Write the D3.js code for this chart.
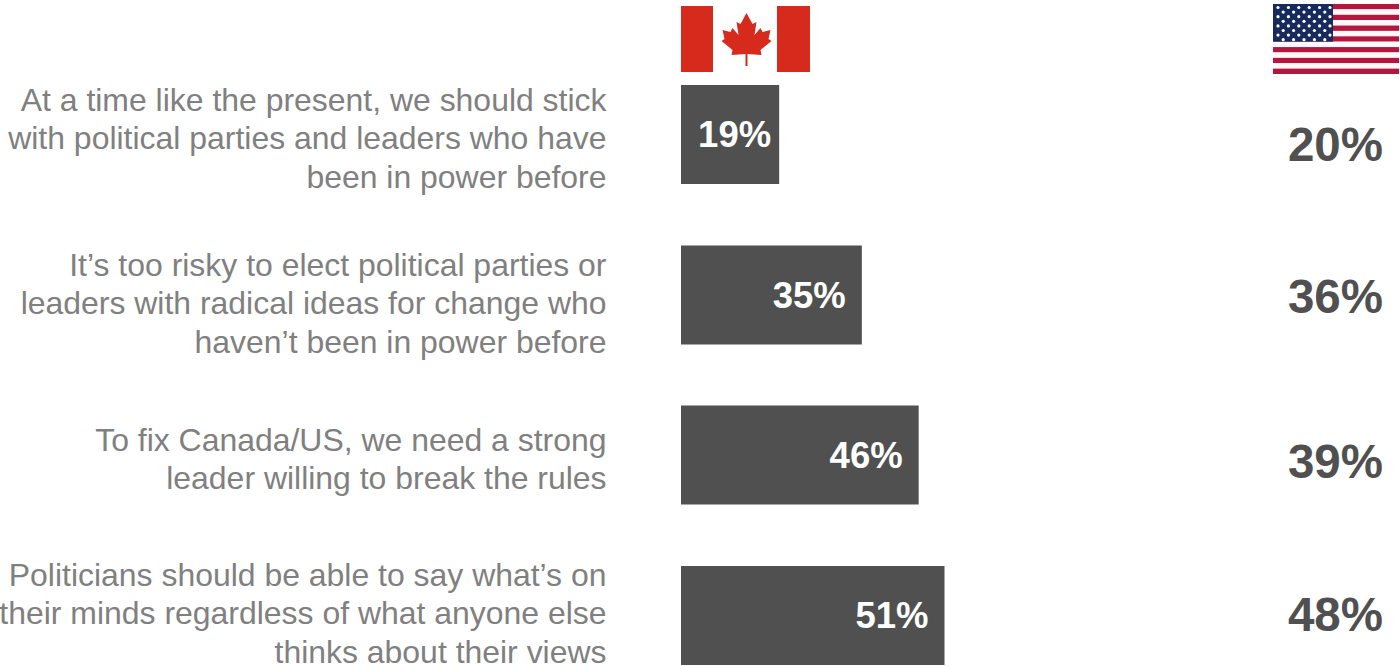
<!DOCTYPE html>
<html>
<head>
<meta charset="utf-8">
<script src="https://cdn.jsdelivr.net/npm/d3@7"></script>
<style>
html,body{margin:0;padding:0;background:#fff;overflow:hidden}
svg{display:block;font-family:"Liberation Sans",Arial,sans-serif}
</style>
</head>
<body>
<svg id="chart" width="1400" height="666"></svg>
<script>
// Agreement with each statement, Canada vs. United States (percent)
const statements = [
  ["At a time like the present, we should stick","with political parties and leaders who have","been in power before"],
  ["It’s too risky to elect political parties or","leaders with radical ideas for change who","haven’t been in power before"],
  ["To fix Canada/US, we need a strong","leader willing to break the rules"],
  ["Politicians should be able to say what’s on","their minds regardless of what anyone else","thinks about their views"]
];
const canadaValues = [19, 35, 46, 51];
const usValues = [20, 36, 39, 48];

const barColor = "#505050";
const labelGrey = "#808080";
const flagRed = "#d52b1e";
const usRed = "#b5193c";
const usBlue = "#16295c";

const svg = d3.select("#chart");
const defs = svg.append("defs");
defs.append("filter").attr("id","soft").append("feGaussianBlur").attr("stdDeviation",0.6);

const x = d3.scaleLinear().domain([0, 51]).range([681, 944.5]);
const rowTops = [85, 245.5, 405.5, 566];
const barHeight = 99;
const rowCentre = i => rowTops[i] + barHeight / 2;
// Text blocks sit a little off the bar centres in this layout
const textCentre = [138, 303, 459, 613];
const usCentre = [144, 296, 461, 614];
const labelInset = [8, 16, 16, 16];
const lineGap = 38.5;

const rows = svg.append("g").selectAll("g")
  .data(canadaValues.map((v, i) => ({v, us: usValues[i], lines: statements[i], i})))
  .join("g");

rows.append("rect")
  .attr("x", x(0))
  .attr("y", d => rowTops[d.i])
  .attr("width", d => x(d.v) - x(0))
  .attr("height", barHeight)
  .attr("fill", barColor);

rows.append("text")
  .attr("x", d => x(d.v) - labelInset[d.i])
  .attr("y", d => rowCentre(d.i))
  .attr("dy", "0.35em")
  .attr("text-anchor", "end")
  .attr("fill", "#fff")
  .attr("font-weight", "bold")
  .attr("font-size", 36.5)
  .text(d => d.v + "%");

rows.append("text")
  .attr("x", 1383)
  .attr("y", d => usCentre[d.i])
  .attr("dy", "0.35em")
  .attr("text-anchor", "end")
  .attr("fill", barColor)
  .attr("font-weight", "bold")
  .attr("font-size", 47.5)
  .text(d => d.us + "%");

rows.each(function(d) {
  const first = textCentre[d.i] - (d.lines.length - 1) * lineGap / 2;
  d3.select(this).append("g").selectAll("text")
    .data(d.lines)
    .join("text")
    .attr("x", 606.5)
    .attr("y", (_, k) => first + k * lineGap)
    .attr("dy", "0.35em")
    .attr("text-anchor", "end")
    .attr("fill", labelGrey)
    .attr("font-size", 31.95)
    .text(t => t);
});

// Canadian flag
const ca = svg.append("g").attr("transform", "translate(681,6)").attr("filter", "url(#soft)");
ca.append("rect").attr("width", 129).attr("height", 66).attr("fill", "#fff");
ca.append("rect").attr("width", 32).attr("height", 66).attr("fill", flagRed);
ca.append("rect").attr("x", 96).attr("width", 33).attr("height", 66).attr("fill", flagRed);
const leaf = [[0,-26],[6,-15],[10,-17],[8,-4],[14,-11],[16,-7],[24,-9],[22,0],[25,2],[14,11],[15,16],[1,15],[1,27],[-1,27],[-1,15],[-15,16],[-14,11],[-25,2],[-22,0],[-24,-9],[-16,-7],[-14,-11],[-8,-4],[-10,-17],[-6,-15]];
ca.append("path")
  .attr("transform", "translate(65.5,33)")
  .attr("d", d3.line()(leaf) + "Z")
  .attr("fill", flagRed);

// United States flag
const us = svg.append("g").attr("transform", "translate(1273,4)").attr("filter", "url(#soft)");
const flagW = 126, flagH = 70;
const stripe = d3.scaleBand().domain(d3.range(13)).range([0, flagH]);
us.selectAll("rect.stripe")
  .data(d3.range(13))
  .join("rect")
  .attr("class", "stripe")
  .attr("y", i => stripe(i))
  .attr("width", flagW)
  .attr("height", stripe.bandwidth())
  .attr("fill", i => i % 2 ? "#fdf8fa" : usRed);
us.append("rect").attr("width", 60).attr("height", stripe(7)).attr("fill", usBlue);
const starRows = d3.range(9).flatMap(r =>
  d3.range(r % 2 ? 5 : 6).map(c => ({r, c})));
us.selectAll("circle")
  .data(starRows)
  .join("circle")
  .attr("cx", d => 5 + d.c * 10.4 + (d.r % 2 ? 5.2 : 0))
  .attr("cy", d => 3.5 + d.r * 4.6)
  .attr("r", 1.6)
  .attr("fill", "#ffffff");
</script>
</body>
</html>
